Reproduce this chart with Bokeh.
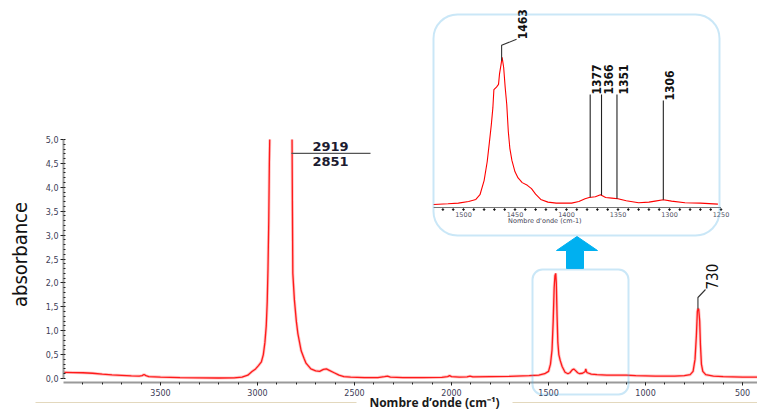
import numpy as np
from bokeh.plotting import figure
from bokeh.models import (Range1d, FixedTicker, CustomJSTickFormatter, BoxAnnotation,
                          Label, Arrow, SingleIntervalTicker)
from bokeh.core.properties import value
from bokeh.embed import file_html
from bokeh.resources import INLINE

# ---------------- data ----------------
# main FTIR spectrum (wavenumber cm-1, absorbance); NaN = off-scale (saturated) region
main_wn = [4000, 3950, 3900, 3850, 3800, 3750, 3700, 3650, 3610, 3595, 3585, 3575, 3560, 3500,
           3400, 3300, 3200, 3120, 3080, 3050, 3030, 3010, 2995, 2980, 2970, 2962, 2955, 2950,
           2946, 2942, 2939, 2937, 2880, 2822, 2820, 2818, 2810, 2800, 2792, 2775, 2760, 2750,
           2725, 2700, 2680, 2660, 2645, 2630, 2605, 2580, 2555, 2520, 2450, 2380, 2345, 2330,
           2315, 2250, 2150, 2050, 2020, 2010, 2000, 1960, 1920, 1905, 1890, 1800, 1700, 1600,
           1550, 1520, 1500, 1490, 1482, 1476, 1471, 1467, 1463, 1460, 1456, 1452, 1447, 1440,
           1430, 1415, 1400, 1390, 1378, 1370, 1362, 1350, 1340, 1325, 1312, 1308, 1304, 1300,
           1280, 1250, 1200, 1100, 1050, 1000, 950, 900, 850, 800, 770, 755, 745, 738, 733, 730,
           726, 721, 717, 712, 705, 690, 650, 600, 550, 500, 423]
main_abs = [0.13, 0.125, 0.12, 0.11, 0.09, 0.075, 0.065, 0.055, 0.05, 0.06, 0.085, 0.06, 0.04, 0.03,
            0.02, 0.015, 0.01, 0.015, 0.03, 0.07, 0.14, 0.2, 0.27, 0.35, 0.5, 0.75, 1.1, 1.6,
            2.3, 3.3, 4.5, 5.0, float("nan"), 5.0, 3.5, 2.2, 1.65, 1.2, 0.94, 0.58, 0.42, 0.32,
            0.2, 0.16, 0.15, 0.19, 0.2, 0.17, 0.12, 0.07, 0.04, 0.03, 0.02, 0.02, 0.04, 0.05,
            0.03, 0.02, 0.02, 0.025, 0.04, 0.06, 0.04, 0.03, 0.035, 0.05, 0.035, 0.04, 0.045, 0.06,
            0.07, 0.1, 0.15, 0.3, 0.6, 1.2, 1.9, 2.15, 2.2, 2.0, 1.3, 0.75, 0.5, 0.38,
            0.25, 0.13, 0.1, 0.12, 0.18, 0.2, 0.17, 0.12, 0.1, 0.11, 0.14, 0.2, 0.14, 0.12,
            0.09, 0.08, 0.07, 0.07, 0.06, 0.055, 0.05, 0.05, 0.05, 0.06, 0.08, 0.15, 0.4, 0.9, 1.4, 1.46,
            1.45, 1.2, 0.7, 0.3, 0.15, 0.08, 0.05, 0.04, 0.035, 0.03, 0.03]

# zoomed 1530-1250 cm-1 region (inset)
inset_wn = [1529, 1515, 1505, 1495, 1488, 1484, 1480, 1477, 1475, 1473, 1471.5, 1470.5, 1468, 1466,
            1465, 1463.5, 1462.5, 1461, 1459.5, 1458, 1456.5, 1455, 1453, 1450, 1447, 1443, 1438,
            1434, 1430, 1425, 1418, 1410, 1395, 1388, 1382, 1378, 1372, 1367, 1362, 1356, 1350,
            1342, 1330, 1320, 1314, 1306, 1298, 1285, 1270, 1253]
inset_abs = [0.015, 0.025, 0.035, 0.06, 0.09, 0.16, 0.37, 0.65, 0.92, 1.2, 1.45, 1.72, 1.76, 1.8,
             1.96, 2.1, 2.2, 2.05, 1.75, 1.5, 1.1, 0.85, 0.67, 0.5, 0.41, 0.34, 0.3,
             0.25, 0.17, 0.09, 0.05, 0.035, 0.035, 0.06, 0.1, 0.12, 0.13, 0.16, 0.12, 0.11, 0.1,
             0.07, 0.04, 0.05, 0.065, 0.085, 0.065, 0.04, 0.035, 0.02]

x_major_ticks = [3500, 3000, 2500, 2000, 1500, 1000, 500]
x_minor_ticks = list(range(3900, 400, -100))
inset_tick_values = [1500, 1450, 1400, 1350, 1300, 1250]
inset_tick_labels = ["1500", "1450", "1400", "1350", "1300", "1250"]
inset_minor_values = list(range(1520, 1249, -10))

inset_peaks = [1377, 1366, 1351, 1306]
inset_peak_labels = ["1377", "1366", "1351", "1306"]
inset_peak_tops = [1.65, 1.65, 1.65, 1.56]
main_peak = 1463
main_peak_label = "1463"
band_730 = 730
ch_labels = ["2919", "2851"]

# ---------------- geometry helpers (pixel <-> data of main scales) ----------------
W, H = 757, 410
PX_L, WN_L = 63, 4000       # left end of x axis
PX_R, WN_R = 757, 423       # right end of x axis
PY_0, PY_5 = 378, 139       # absorbance 0 and 5
SX = (PX_R - PX_L) / (WN_L - WN_R)
SY = (PY_0 - PY_5) / 5.0


def wn(px):
    return WN_L - (px - PX_L) / SX


def ab(py):
    return (PY_0 - py) / SY


# inset scales
I_PX1500, I_SX = 463, 1.03
I_PY0, I_SY = 205, 67.3

p = figure(width=W, height=H, output_backend="svg", toolbar_location=None,
           x_range=Range1d(wn(0), wn(W)), y_range=Range1d(ab(H), ab(0)),
           min_border_left=0, min_border_right=0, min_border_top=0, min_border_bottom=0)
p.extra_x_ranges = {"ix": Range1d(1500 + I_PX1500 / I_SX, 1500 - (W - I_PX1500) / I_SX)}
p.extra_y_ranges = {"iy": Range1d(-(H - I_PY0) / I_SY, I_PY0 / I_SY)}
p.outline_line_color = None
p.xgrid.visible = False
p.ygrid.visible = False
p.background_fill_color = "white"
p.border_fill_color = "white"

TICK_FONT = "DejaVu Sans"
NARROW = "'Liberation Sans Narrow', 'DejaVu Sans Condensed', sans-serif"

# x axis
xa = p.xaxis[0]
xa.fixed_location = ab(382)
xa.bounds = (WN_R, WN_L)
xa.ticker = FixedTicker(ticks=x_major_ticks, minor_ticks=x_minor_ticks)
xa.axis_line_color = "#9a9a9a"
xa.axis_line_width = 2
xa.major_tick_out = 3
xa.major_tick_in = 0
xa.minor_tick_out = 2
xa.minor_tick_in = 0
xa.major_tick_line_color = "#222222"
xa.minor_tick_line_color = "#222222"
xa.major_label_text_font = TICK_FONT
xa.major_label_text_font_size = "8px"
xa.major_label_text_color = "#3c3c55"
xa.major_label_standoff = 3

# y axis
ya = p.yaxis[0]
ya.fixed_location = WN_L
ya.ticker = SingleIntervalTicker(interval=0.5, num_minor_ticks=5)
ya.bounds = (0, 5)
ya.formatter = CustomJSTickFormatter(code="return tick.toFixed(1).replace('.', ',');")
ya.axis_line_color = "#9a9a9a"
ya.axis_line_width = 2
ya.major_tick_out = 3
ya.major_tick_in = 0
ya.minor_tick_out = 0
ya.minor_tick_in = 2
ya.major_tick_line_color = "#222222"
ya.minor_tick_line_color = "#222222"
ya.major_label_text_font = TICK_FONT
ya.major_label_text_font_size = "8px"
ya.major_label_text_color = "#3c3c55"
ya.major_label_standoff = 2

# y axis title
p.text(x=[wn(19)], y=[ab(254)], text=["absorbance"], angle=np.pi / 2,
       text_font=value(NARROW), text_font_size="20px", text_color="#111111",
       text_align="center", text_baseline="middle")

# ---------------- main spectrum ----------------
p.line(main_wn, main_abs, line_color="#ff8080", line_width=3, line_alpha=0.45)
p.line(main_wn, main_abs, line_color="#ff1a1a", line_width=1.3)

# 2919 / 2851 annotation
p.segment(x0=[2825], y0=[4.71], x1=[wn(370)], y1=[4.71], line_color="#555555", line_width=1.3)
p.text(x=[wn(330), wn(330)], y=[4.86, 4.55], text=ch_labels,
       text_font=value("DejaVu Sans"), text_font_style="bold", text_font_size="13px",
       text_color="#1c1c30", text_align="center", text_baseline="middle")

# 730 annotation
top730 = float(np.interp(band_730, main_wn[::-1], main_abs[::-1]))
p.line([band_730, band_730, wn(705)], [top730, ab(297), ab(289)], line_color="#333333", line_width=1.1)
p.text(x=[wn(705.5)], y=[ab(289)], text=[str(band_730)], angle=np.pi / 2,
       text_font=value(NARROW), text_font_size="15px", text_color="#111111",
       text_align="left", text_baseline="top")

# boxes
BOX_BLUE = "#4faee6"
p.add_layout(BoxAnnotation(left=wn(433), right=wn(719), top=ab(14), bottom=ab(235),
                           border_radius=24, fill_color=None, fill_alpha=0,
                           line_color=BOX_BLUE, line_width=2))
p.add_layout(BoxAnnotation(left=wn(532), right=wn(628), top=ab(269), bottom=ab(394),
                           border_radius=10, fill_color=None, fill_alpha=0,
                           line_color=BOX_BLUE, line_width=2))

# blue arrow
ax_px = [566, 583, 583, 597, 576.5, 556, 566]
ay_px = [268, 268, 250, 250, 236, 250, 250]
p.patch([wn(v) for v in ax_px], [ab(v) for v in ay_px], fill_color="#00b0f0", line_color="#00b0f0")

# ---------------- inset ----------------
p.line(inset_wn, inset_abs, line_color="#ff0000", line_width=1.1, x_range_name="ix", y_range_name="iy")

iax_y = -0.03
p.segment(x0=[1529], y0=[iax_y], x1=[1250], y1=[iax_y], line_color="#777777", line_width=1.2,
          x_range_name="ix", y_range_name="iy")
p.scatter(inset_minor_values, [iax_y - 0.03] * len(inset_minor_values), size=1.6, color="#111111",
          x_range_name="ix", y_range_name="iy")
p.text(x=inset_tick_values, y=[iax_y - 0.07] * len(inset_tick_values), text=inset_tick_labels,
       text_font=value(TICK_FONT), text_font_size="6.5px", text_color="#555566",
       text_align="center", text_baseline="top", x_range_name="ix", y_range_name="iy")
p.text(x=[1421], y=[-0.23], text=["Nombre d'onde (cm-1)"],
       text_font=value(TICK_FONT), text_font_size="6.5px", text_color="#444455",
       text_align="center", text_baseline="middle", x_range_name="ix", y_range_name="iy")

# peak markers in inset
inset_wn_asc = inset_wn[::-1]
inset_abs_asc = inset_abs[::-1]
bottoms = [float(np.interp(w, inset_wn_asc, inset_abs_asc)) for w in inset_peaks]
p.segment(x0=inset_peaks, y0=bottoms, x1=inset_peaks, y1=inset_peak_tops, line_color="#222222",
          line_width=1.1, x_range_name="ix", y_range_name="iy")
p.text(x=[w - 2 for w in inset_peaks], y=inset_peak_tops, text=inset_peak_labels, angle=np.pi / 2,
       text_font=value(NARROW), text_font_style="bold", text_font_size="12px", text_color="#111111",
       text_align="left", text_baseline="top", x_range_name="ix", y_range_name="iy")

top1463 = float(np.interp(main_peak, inset_wn_asc, inset_abs_asc))
p.line([main_peak, main_peak, 1448.5], [top1463, 2.38, 2.47], line_color="#333333", line_width=1.1,
       x_range_name="ix", y_range_name="iy")
p.text(x=[1447.5], y=[2.47], text=[main_peak_label], angle=np.pi / 2,
       text_font=value(NARROW), text_font_style="bold", text_font_size="12px", text_color="#111111",
       text_align="left", text_baseline="top", x_range_name="ix", y_range_name="iy")

# ---------------- bottom title with rule ----------------
RULE = "#e3d8bd"
p.add_layout(Arrow(x_start=wn(35), y_start=ab(402), x_end=wn(356), y_end=ab(402),
                   start=None, end=None, line_color=RULE, line_width=1))
p.add_layout(Arrow(x_start=wn(512), y_start=ab(402), x_end=wn(757), y_end=ab(402),
                   start=None, end=None, line_color=RULE, line_width=1))
p.add_layout(Label(x=wn(434), y=ab(401.5), text="Nombre d\u2019onde (cm\u207b\u00b9)",
                   text_font="Open Sans", text_font_style="bold", text_font_size="12px",
                   text_color="#1a1a1a", text_align="center", text_baseline="middle"))

open("out.html", "w").write(file_html(p, INLINE))
